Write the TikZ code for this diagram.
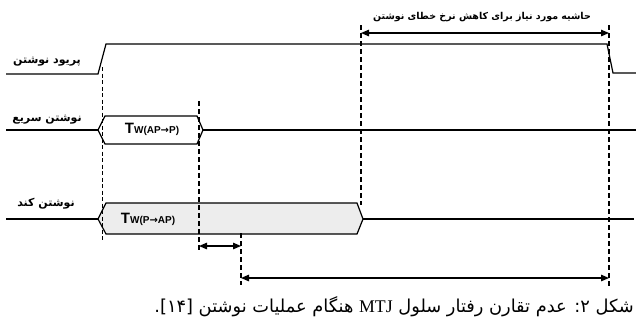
\documentclass[tikz,border=0pt]{standalone}
\usepackage{fontspec}
\setmainfont{Liberation Serif}
\newfontfamily\arabicfont[Script=Arabic]{DejaVu Sans}
\newfontfamily\latinsans{Liberation Sans}
\newfontfamily\symfont{DejaVu Sans}
\TeXXeTstate=1
\usetikzlibrary{arrows.meta}
% bold arrow used inside the T_W labels
\newcommand{\twarrow}{{\symfont\bfseries →}}

\begin{document}
\begin{tikzpicture}[x=1pt,y=-1pt,
  signal/.style={line width=1.2pt, line join=miter},
  pulsebox/.style={signal, fill=white},
  slowbox/.style={signal, fill=black!7},
  guide/.style={line width=1.3pt, dash pattern=on 5pt off 3pt},
  guidethin/.style={line width=0.9pt, dash pattern=on 4pt off 2.5pt},
  span/.style={line width=1.3pt,
    {Triangle[length=8pt,width=6.5pt]}-{Triangle[length=8pt,width=6.5pt]}},
  rowlabel/.style={font=\arabicfont\bfseries\fontsize{11}{13}\selectfont, inner sep=0pt},
  toplabel/.style={font=\arabicfont\bfseries\fontsize{9.5}{11}\selectfont, inner sep=0pt},
  twlabel/.style={font=\latinsans\bfseries, inner sep=0pt},
  caption/.style={font=\arabicfont\fontsize{17.8}{20}\selectfont, inner sep=0pt}
]
\useasboundingbox (0,0) rectangle (636,325);

% ---- waveforms ----
% write period
\draw[signal] (6,74) -- (98,74) -- (106,44) -- (607,44) -- (613,73) -- (636,73);
% fast write (AP -> P)
\draw[signal] (6,130) -- (98,130);
\draw[pulsebox] (98,130) -- (105,116) -- (197,116) -- (203,130) -- (197,144) -- (105,144) -- cycle;
\draw[signal] (203,130) -- (636,130);
% slow write (P -> AP)
\draw[signal] (6,219) -- (98,219);
\draw[slowbox] (98,219) -- (106,203) -- (357,203) -- (363,219) -- (357,234) -- (106,234) -- cycle;
\draw[signal] (363,219) -- (634,219);

% ---- timing guides ----
\coordinate (d1top) at (102,67);  \coordinate (d1bot) at (102,240);
\coordinate (d2top) at (199,101); \coordinate (d2bot) at (199,250);
\coordinate (d3top) at (361,25);  \coordinate (d3bot) at (361,205);
\coordinate (d4top) at (609,25);  \coordinate (d4bot) at (609,287);
\coordinate (d5top) at (241,233); \coordinate (d5bot) at (241,285);
\draw[guidethin] (d1top) -- (d1bot);
\draw[guide] (d2top) -- (d2bot);
\draw[guide] (d3top) -- (d3bot);
\draw[guide] (d4top) -- (d4bot);
\draw[guide] (d5top) -- (d5bot);

% ---- interval arrows ----
\coordinate (m1) at (361,33);  \coordinate (m2) at (609,33);
\coordinate (g1) at (199,246); \coordinate (g2) at (241,246);
\coordinate (h1) at (241,278); \coordinate (h2) at (609,278);
\draw[span] (m1) -- (m2);
\draw[span] (g1) -- (g2);
\draw[span] (h1) -- (h2);

% ---- labels ----
\node[rowlabel] (lperiod) at (47,62) {\beginR پریود نوشتن\endR};
\node[rowlabel] (lfast) at (47,120) {\beginR نوشتن سریع\endR};
\node[rowlabel] (lslow) at (46,204) {\beginR نوشتن کند\endR};
\node[toplabel] (lmargin) at (482,17) {\beginR حاشیه مورد نیاز برای کاهش نرخ خطای نوشتن\endR};
\node[twlabel] (tfast) at (152,129) {\fontsize{15}{15}\selectfont T\fontsize{10}{10}\selectfont W(AP\twarrow P)};
\node[twlabel] (tslow) at (148,219) {\fontsize{15}{15}\selectfont T\fontsize{10}{10}\selectfont W(P\twarrow AP)};

\node[caption, anchor=east] (cap) at (634,307)
  {\beginR شکل ۲: عدم تقارن رفتار سلول {\rmfamily\beginL MTJ\endL} هنگام عملیات نوشتن [۱۴].\endR};
\end{tikzpicture}
\end{document}
